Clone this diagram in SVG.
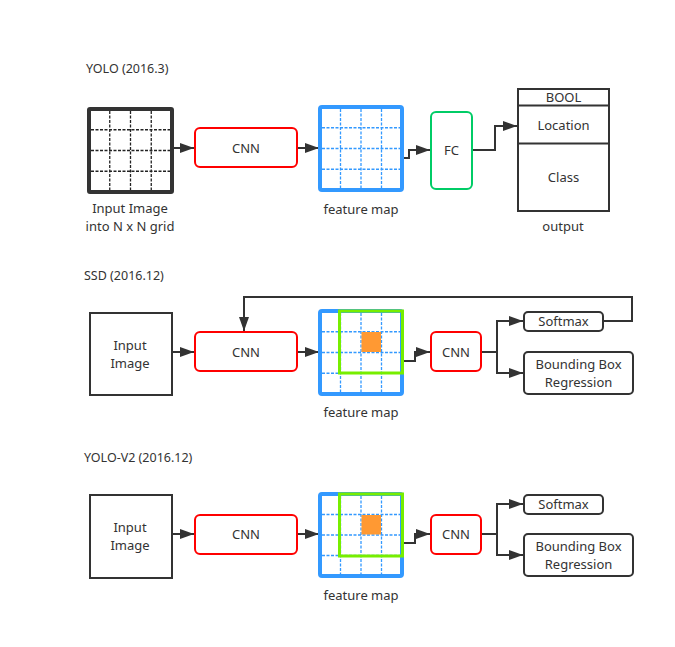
<svg xmlns="http://www.w3.org/2000/svg" width="675" height="647" viewBox="0 0 675 647">
<style>
text{font-family:"Noto Sans","Open Sans","DejaVu Sans",sans-serif;font-size:13px;fill:#333;}
.c{text-anchor:middle;}
.title{font-size:12.5px;}
.box{fill:#fff;stroke:#333;stroke-width:2;}
.cnn{fill:#fff;stroke:#f00;stroke-width:2;}
.fc{fill:#fff;stroke:#00cc66;stroke-width:2;}
.fm{fill:#fff;stroke:#3399ff;stroke-width:4;}
.fmg{fill:none;stroke:#3399ff;stroke-width:1.3;stroke-dasharray:3 1.5;}
.ig{fill:none;stroke:#222;stroke-width:1.3;stroke-dasharray:3 1.5;}
.hl{fill:none;stroke:#77ee00;stroke-width:3;}
.or{fill:#ff9933;}
.ln{fill:none;stroke:#333;stroke-width:2;}
</style>
<defs>
<marker id="ah" markerUnits="userSpaceOnUse" markerWidth="16" markerHeight="12" refX="14" refY="6" orient="auto">
<path d="M0,1 L14,6 L0,11 Z" fill="#333"/>
</marker>
</defs>

<text x="86" y="73" class="title">YOLO (2016.3)</text>
<text x="84" y="280" class="title">SSD (2016.12)</text>
<text x="84" y="462" class="title">YOLO-V2 (2016.12)</text>

<g id="connectors">
<path class="ln" d="M173,148 H194" marker-end="url(#ah)"/>
<path class="ln" d="M297,148 H319" marker-end="url(#ah)"/>
<path class="ln" d="M403,158 H409 V150 H430" marker-end="url(#ah)"/>
<path class="ln" d="M472,150 H495 V126 H517" marker-end="url(#ah)"/>

<path class="ln" d="M172,352 H194" marker-end="url(#ah)"/>
<path class="ln" d="M297,352 H319" marker-end="url(#ah)"/>
<path class="ln" d="M403,361 H415 V352 H430" marker-end="url(#ah)"/>
<path class="ln" d="M481,352 H497 V321 H523" marker-end="url(#ah)"/>
<path class="ln" d="M497,352 V373 H523" marker-end="url(#ah)"/>
<path class="ln" d="M603,321 H632 V297 H244 V331" marker-end="url(#ah)"/>

<path class="ln" d="M172,534 H194" marker-end="url(#ah)"/>
<path class="ln" d="M297,534 H319" marker-end="url(#ah)"/>
<path class="ln" d="M403,543 H415 V534 H430" marker-end="url(#ah)"/>
<path class="ln" d="M481,534 H497 V504 H523" marker-end="url(#ah)"/>
<path class="ln" d="M497,534 V555 H523" marker-end="url(#ah)"/>
</g>

<g id="yolo-input">
<rect x="89" y="109" width="83" height="83" fill="#fff" stroke="#333" stroke-width="4" rx="1"/>
<path class="ig" d="M109.75,111 V190 M130.5,111 V190 M151.25,111 V190 M91,129.75 H170 M91,150.5 H170 M91,171.25 H170"/>
<text x="130" y="213" class="c">Input Image</text>
<text x="130" y="231" class="c">into N x N grid</text>
</g>
<g id="yolo-cnn">
<rect class="cnn" x="195" y="128" width="102" height="39" rx="5"/>
<text x="246" y="152.5" class="c">CNN</text>
</g>
<g id="yolo-fm">
<rect class="fm" x="320" y="107" width="82" height="83" rx="2"/>
<path class="fmg" d="M340.5,109 V188 M361,109 V188 M381.5,109 V188 M322,127.75 H400 M322,148.5 H400 M322,169.25 H400"/>
<text x="361" y="214" class="c">feature map</text>
</g>
<g id="yolo-fc">
<rect class="fc" x="431" y="112" width="41" height="77" rx="5"/>
<text x="451.5" y="155" class="c">FC</text>
</g>
<g id="yolo-output">
<rect class="box" x="518" y="89" width="91" height="122"/>
<path class="ln" d="M518,105.5 H609 M518,143.5 H609"/>
<text x="563.5" y="102" class="c">BOOL</text>
<text x="563.5" y="130" class="c">Location</text>
<text x="563.5" y="182" class="c">Class</text>
<text x="563" y="231" class="c">output</text>
</g>

<g id="ssd-input">
<rect class="box" x="90" y="313" width="82" height="82"/>
<text x="130" y="350" class="c">Input</text>
<text x="130" y="368" class="c">Image</text>
</g>
<g id="ssd-cnn">
<rect class="cnn" x="195" y="332" width="102" height="39" rx="5"/>
<text x="246" y="356.5" class="c">CNN</text>
</g>
<g id="ssd-fm">
<rect class="fm" x="320" y="311" width="82" height="83" rx="2"/>
<path class="fmg" d="M340.5,313 V392 M361,313 V392 M381.5,313 V392 M322,331.75 H400 M322,352.5 H400 M322,373.25 H400"/>
<rect class="or" x="361.5" y="332" width="19.5" height="20"/>
<rect class="hl" x="339.5" y="311" width="63" height="62"/>
<text x="361" y="417" class="c">feature map</text>
</g>
<g id="ssd-cnn2">
<rect class="cnn" x="431" y="332" width="50" height="39" rx="5"/>
<text x="456" y="356.5" class="c">CNN</text>
</g>
<g id="ssd-softmax">
<rect class="box" x="524" y="312" width="79" height="19" rx="4"/>
<text x="563.5" y="326" class="c">Softmax</text>
</g>
<g id="ssd-bbox">
<rect class="box" x="524" y="352" width="109" height="42" rx="4"/>
<text x="578.5" y="369" class="c">Bounding Box</text>
<text x="578.5" y="387" class="c">Regression</text>
</g>

<g id="v2-input">
<rect class="box" x="90" y="495" width="82" height="83"/>
<text x="130" y="532" class="c">Input</text>
<text x="130" y="550" class="c">Image</text>
</g>
<g id="v2-cnn">
<rect class="cnn" x="195" y="515" width="102" height="39" rx="5"/>
<text x="246" y="538.5" class="c">CNN</text>
</g>
<g id="v2-fm">
<rect class="fm" x="320" y="494" width="82" height="82" rx="2"/>
<path class="fmg" d="M340.5,496 V574 M361,496 V574 M381.5,496 V574 M322,514.5 H400 M322,535 H400 M322,555.5 H400"/>
<rect class="or" x="361.5" y="515" width="19.5" height="19.5"/>
<rect class="hl" x="339.5" y="494" width="63" height="62"/>
<text x="361" y="600" class="c">feature map</text>
</g>
<g id="v2-cnn2">
<rect class="cnn" x="431" y="515" width="50" height="39" rx="5"/>
<text x="456" y="538.5" class="c">CNN</text>
</g>
<g id="v2-softmax">
<rect class="box" x="524" y="495" width="79" height="19" rx="4"/>
<text x="563.5" y="509" class="c">Softmax</text>
</g>
<g id="v2-bbox">
<rect class="box" x="524" y="534" width="109" height="42" rx="4"/>
<text x="578.5" y="551" class="c">Bounding Box</text>
<text x="578.5" y="569" class="c">Regression</text>
</g>
</svg>
